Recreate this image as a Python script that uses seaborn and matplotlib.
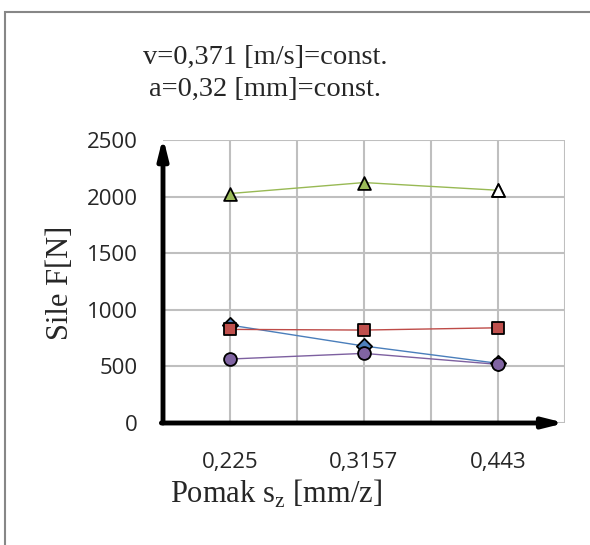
import numpy as np
import pandas as pd
import matplotlib
matplotlib.use('Agg')
import matplotlib.pyplot as plt
import matplotlib.patches as mpatches
import seaborn as sns

# data
feeds = ['0,225', '0,3157', '0,443']
f_blue = [865, 680, 527]
f_red = [827, 821, 841]
f_green = [2027, 2124, 2056]
f_purple = [565, 615, 518]

series = [
    ('blue', f_blue, 'D', '#4A7EBB', '#4F81BD'),
    ('red', f_red, 's', '#BE4B48', '#C0504D'),
    ('green', f_green, '^', '#98B954', '#9BBB59'),
    ('purple', f_purple, 'o', '#7D60A0', '#8064A2'),
]

sns.set_style('white')
fig = plt.figure(figsize=(5.9, 5.45), dpi=100)
W, H = 590, 545
ax = fig.add_axes([163 / W, 1 - 423 / H, (565 - 163) / W, (423 - 140) / H])

pos = np.arange(len(feeds)) + 0.5
for name, vals, mk, lc, fc in series:
    df = pd.DataFrame({'x': pos, 'y': vals})
    sns.lineplot(data=df, x='x', y='y', color=lc, linewidth=1.0, ax=ax, zorder=3)
    sns.scatterplot(data=df, x='x', y='y', marker=mk, color=fc, edgecolor='black',
                    linewidth=1.3, s=85 if mk != 'D' else 60, ax=ax, zorder=4)
# last green triangle is drawn hollow in the original
ax.scatter(pos[-1], f_green[-1], marker='^', s=85, facecolor='white',
           edgecolor='black', linewidth=1.3, zorder=5)

ax.set_xlim(0, 3)
ax.set_ylim(0, 2500)
ax.set_xticks(pos)
ax.set_xticklabels(feeds)
ax.set_xticks([1, 2, 3], minor=True)
ax.set_yticks(range(0, 2501, 500))
ax.grid(True, which='both', color='#BFBFBF', linewidth=1.5)
ax.set_axisbelow(True)
for s in ax.spines.values():
    s.set_visible(False)
ax.tick_params(axis='both', which='both', length=0, labelsize=16)
for lab in ax.get_xticklabels() + ax.get_yticklabels():
    lab.set_family(['Open Sans', 'DejaVu Sans'])
ax.tick_params(axis='y', pad=18)
ax.tick_params(axis='x', pad=21)
ax.set_xlabel('')
ax.set_ylabel('')

# arrowed axes
ax.annotate('', xy=(0, 1.01), xytext=(0, 0), xycoords='axes fraction',
            arrowprops=dict(arrowstyle='-|>,head_length=1.2,head_width=0.3',
                            color='black', lw=3.5, shrinkA=0, shrinkB=0), annotation_clip=False)
ax.annotate('', xy=(1.0, 0), xytext=(-0.004, 0), xycoords='axes fraction',
            arrowprops=dict(arrowstyle='-|>,head_length=1.2,head_width=0.3',
                            color='black', lw=3.5, shrinkA=0, shrinkB=0), annotation_clip=False)

serif = ['Liberation Serif', 'DejaVu Serif']
fig.text(265 / W, 1 - 57 / H, 'v=0,371 [m/s]=const.', ha='center', va='center',
         fontsize=20.5, family=serif)
fig.text(265 / W, 1 - 89 / H, 'a=0,32 [mm]=const.', ha='center', va='center',
         fontsize=20.5, family=serif)
fig.text(60 / W, 1 - 283 / H, 'Sile F[N]', rotation=90, ha='center', va='center',
         fontsize=22, family=serif)
fig.text(170 / W, 1 - 494 / H, 'Pomak s$_\\mathregular{z}$ [mm/z]', ha='left', va='center',
         fontsize=22, family=serif)

fig.patches.append(mpatches.Rectangle((5 / W, -0.1), 1.2, 1.1 - 12 / H, transform=fig.transFigure,
                                      fill=False, edgecolor='#878787', linewidth=1.5))

fig.savefig('out.png', dpi=100)
